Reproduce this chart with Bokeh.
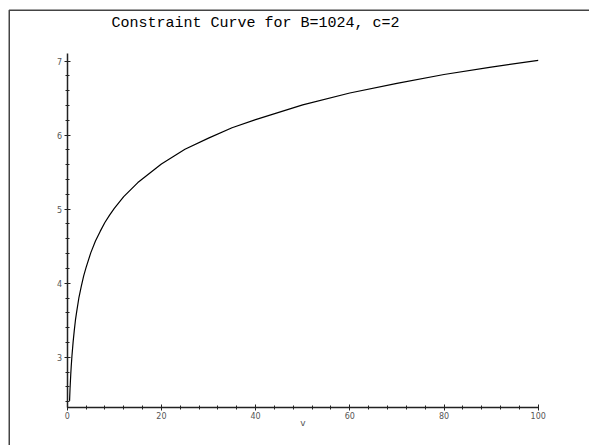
from bokeh.plotting import figure
from bokeh.models import Range1d, LinearAxis, SingleIntervalTicker, Label, BoxAnnotation, Grid
from bokeh.embed import file_html
from bokeh.resources import INLINE

# ---- data ----
title_text = "Constraint Curve for B=1024, c=2"
x_label = "v"
v_values = [0.5, 0.6, 0.7, 0.75, 0.85, 1, 1.25, 1.5, 1.75, 2, 2.5, 3, 3.5, 4,
            5, 6, 7, 8, 9, 10, 12, 15, 20, 25, 30, 35, 40, 50, 60, 70, 80, 90, 100]
y_values = [2.41, 2.57, 2.70, 2.76, 2.87, 3.01, 3.20, 3.36, 3.50, 3.61, 3.81, 3.96, 4.10, 4.21,
            4.41, 4.57, 4.70, 4.82, 4.92, 5.01, 5.17, 5.36, 5.61, 5.81, 5.96, 6.10, 6.21,
            6.41, 6.57, 6.70, 6.82, 6.92, 7.01]
x_axis_bounds = (0, 100)
y_axis_bounds = (2.32, 7.11)
x_major_interval = 20
y_major_interval = 1

W, H = 589, 445
p = figure(width=W, height=H, output_backend="svg", toolbar_location=None,
           x_axis_location=None, y_axis_location=None,
           x_range=Range1d(-14.16, 110.89), y_range=Range1d(1.807, 7.820),
           min_border=0, title=None)
p.outline_line_color = None
p.background_fill_color = "white"
p.border_fill_color = "white"
for r in list(p.center):
    if isinstance(r, Grid):
        r.visible = False

label_font = "DejaVu Sans"
label_color = "#555555"

xaxis = LinearAxis(fixed_location=y_axis_bounds[0], bounds=x_axis_bounds,
                   ticker=SingleIntervalTicker(interval=x_major_interval, num_minor_ticks=5),
                   axis_label=x_label)
yaxis = LinearAxis(fixed_location=x_axis_bounds[0], bounds=y_axis_bounds,
                   ticker=SingleIntervalTicker(interval=y_major_interval, num_minor_ticks=5))
for ax in (xaxis, yaxis):
    ax.axis_line_color = "#222222"
    ax.axis_line_width = 1.5
    ax.major_tick_line_color = "#222222"
    ax.minor_tick_line_color = "#222222"
    ax.major_tick_line_width = 1
    ax.minor_tick_line_width = 1
    ax.major_tick_in = 3
    ax.major_tick_out = 3
    ax.minor_tick_in = 2
    ax.minor_tick_out = 2
    ax.major_label_text_font = label_font
    ax.major_label_text_font_size = "8px"
    ax.major_label_text_color = label_color
    ax.axis_label_text_font = label_font
    ax.axis_label_text_font_size = "9px"
    ax.axis_label_text_font_style = "normal"
    ax.axis_label_text_color = label_color
xaxis.major_label_standoff = 1
xaxis.axis_label_standoff = -4
yaxis.major_label_standoff = 2
p.add_layout(xaxis, "below")
p.add_layout(yaxis, "left")

p.line(v_values, y_values, line_color="black", line_width=1.2)

# window frame: only the top and left edges are visible in the reference
p.add_layout(BoxAnnotation(left=8.75, right=W + 20, top=H - 9.75, bottom=-20,
                           left_units="screen", right_units="screen",
                           top_units="screen", bottom_units="screen",
                           fill_alpha=0, line_color="#444444", line_alpha=1.0,
                           line_width=1.5, editable=False))

p.add_layout(Label(x=255, y=H - 22.7, x_units="screen", y_units="screen",
                   text=title_text, text_font="Liberation Mono", text_font_size="15px",
                   text_color="black", text_align="center", text_baseline="alphabetic"))

open("out.html", "w").write(file_html(p, INLINE))
